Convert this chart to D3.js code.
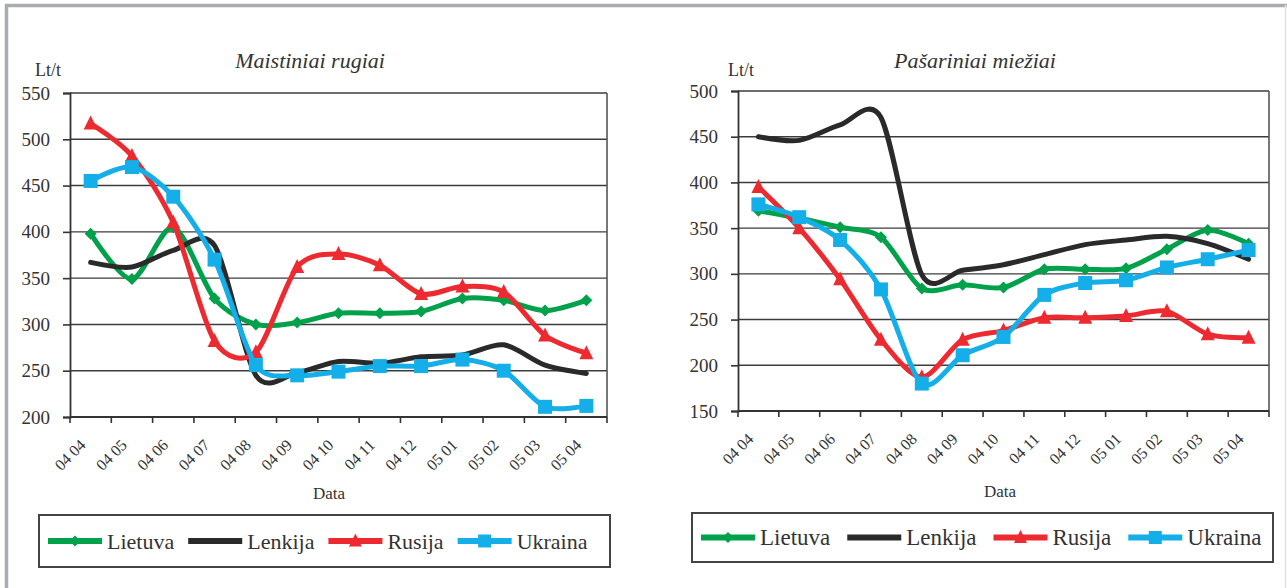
<!DOCTYPE html>
<html>
<head>
<meta charset="utf-8">
<script src="https://cdn.jsdelivr.net/npm/d3@7"></script>
<style>
  html, body { margin: 0; padding: 0; background: #fff; }
  svg { display: block; }
  text { font-family: "Liberation Serif", "Times New Roman", serif !important; fill: #333; }
</style>
</head>
<body>
<svg id="chart" width="1287" height="588" font-family="Liberation Serif, serif"></svg>
<script>
// ---------- data ----------
const categories = ["04 04","04 05","04 06","04 07","04 08","04 09","04 10","04 11","04 12","05 01","05 02","05 03","05 04"];
const seriesNames = ["Lietuva","Lenkija","Rusija","Ukraina"];

// Maistiniai rugiai (Lt/t)
const ryeLietuva = [398,349,405,328,300,302,312,312,314,328,326,315,326];
const ryeLenkija = [367,362,380,385,245,248,260,258,265,267,278,256,247];
const ryeRusija  = [517,482,410,282,270,362,376,364,333,341,335,288,269];
const ryeUkraina = [455,470,438,370,256,245,249,255,255,262,250,211,212];
const ryeTicks = [200,250,300,350,400,450,500,550];

// Pašariniai miežiai (Lt/t)
const barleyLietuva = [369,361,351,340,284,288,285,305,305,306,327,348,333];
const barleyLenkija = [450,446,463,471,299,304,310,321,332,337,341,333,316];
const barleyRusija  = [395,350,294,228,187,228,238,252,252,254,259,234,230];
const barleyUkraina = [376,362,337,283,180,211,231,277,290,293,307,316,326];
const barleyTicks = [150,200,250,300,350,400,450,500];

// ---------- styles ----------
const colors = { Lietuva: "#00a14b", Lenkija: "#2a2a2a", Rusija: "#ec2a30", Ukraina: "#14aee9" };
const markers = { Lietuva: "diamond", Lenkija: null, Rusija: "triangle", Ukraina: "square" };
const FONT = "Liberation Serif, Times New Roman, serif";

const svg = d3.select("#chart");

// outer frame
svg.append("line").attr("x1", 6.5).attr("x2", 6.5).attr("y1", 5).attr("y2", 588)
  .attr("stroke", "#a9abae").attr("stroke-width", 3.5);
svg.append("line").attr("x1", 5).attr("x2", 1287).attr("y1", 5.5).attr("y2", 5.5)
  .attr("stroke", "#a9abae").attr("stroke-width", 3.5);
svg.append("line").attr("x1", 1285.5).attr("x2", 1285.5).attr("y1", 5).attr("y2", 588)
  .attr("stroke", "#e2e2e2").attr("stroke-width", 1.5);

function markerPath(type, s) {
  const h = s / 2;
  if (type === "diamond") return `M0,${-h}L${h},0L0,${h}L${-h},0Z`;
  if (type === "square") return `M${-h},${-h}H${h}V${h}H${-h}Z`;
  if (type === "triangle") return `M0,${-h - 1}L${h},${h - 1}L${-h},${h - 1}Z`;
  return "";
}
const markerSize = { diamond: 12, square: 14, triangle: 14 };

function drawChart(cfg) {
  const g = svg.append("g").attr("font-family", FONT);
  const x = d3.scaleBand().domain(categories).range([cfg.left, cfg.right]).padding(0);
  const y = d3.scaleLinear().domain([cfg.ticks[0], cfg.ticks[cfg.ticks.length - 1]]).range([cfg.bottom, cfg.top]);

  // gridlines
  g.append("g").selectAll("line").data(cfg.ticks.slice(1)).join("line")
    .attr("x1", cfg.left).attr("x2", cfg.right)
    .attr("y1", d => y(d)).attr("y2", d => y(d))
    .attr("stroke", "#3c3c3c").attr("stroke-width", 1.4);
  // right border
  g.append("line").attr("x1", cfg.right).attr("x2", cfg.right).attr("y1", cfg.top).attr("y2", cfg.bottom)
    .attr("stroke", "#555").attr("stroke-width", 1.6);

  // y axis
  const yAxis = g.append("g").attr("transform", `translate(${cfg.left},0)`)
    .call(d3.axisLeft(y).tickValues(cfg.ticks).tickSize(7).tickPadding(13).tickFormat(d3.format("d")));
  yAxis.attr("font-family", FONT).attr("font-size", 19);
  yAxis.select(".domain").attr("stroke", "#333").attr("stroke-width", 1.8);
  yAxis.selectAll(".tick line").attr("stroke", "#333").attr("stroke-width", 1.6);
  yAxis.selectAll(".tick text").attr("fill", "#333");

  // x axis (ticks between categories)
  const xAxisG = g.append("g").attr("transform", `translate(0,${cfg.bottom})`);
  xAxisG.append("line").attr("x1", cfg.left).attr("x2", cfg.right).attr("y1", 0).attr("y2", 0)
    .attr("stroke", "#333").attr("stroke-width", 1.8);
  const edges = categories.map(c => x(c)).concat([cfg.right]);
  xAxisG.selectAll("line.tk").data(edges).join("line").attr("class", "tk")
    .attr("x1", d => d).attr("x2", d => d).attr("y1", 0).attr("y2", 6)
    .attr("stroke", "#333").attr("stroke-width", 1.6);
  xAxisG.selectAll("text").data(categories).join("text")
    .attr("transform", d => `translate(${x(d) + x.bandwidth() / 2 - 4},29) rotate(-45)`)
    .attr("text-anchor", "end").attr("font-size", 16).text(d => d);

  // title and labels
  g.append("text").attr("x", cfg.titleX).attr("y", 68).attr("text-anchor", "middle")
    .attr("font-size", 22).attr("font-style", "italic").text(cfg.title);
  g.append("text").attr("x", cfg.unitX).attr("y", 76).attr("font-size", 18).text("Lt/t");
  g.append("text").attr("x", cfg.dataX).attr("y", cfg.dataY).attr("text-anchor", "middle")
    .attr("font-size", 17).text("Data");

  // series
  const line = d3.line()
    .x((d, i) => x(categories[i]) + x.bandwidth() / 2)
    .y(d => y(d))
    .curve(d3.curveCardinal.tension(0.15));

  seriesNames.forEach(name => {
    const vals = cfg.data[name];
    g.append("path").attr("d", line(vals)).attr("fill", "none")
      .attr("stroke", colors[name]).attr("stroke-width", 5)
      .attr("stroke-linejoin", "round").attr("stroke-linecap", "round");
    const m = markers[name];
    if (m) {
      g.append("g").selectAll("path").data(vals).join("path")
        .attr("transform", (d, i) => `translate(${x(categories[i]) + x.bandwidth() / 2},${y(d)})`)
        .attr("d", markerPath(m, markerSize[m]))
        .attr("fill", colors[name]);
    }
  });

  // legend
  const lg = g.append("g");
  lg.append("rect").attr("x", cfg.legend.x).attr("y", cfg.legend.y)
    .attr("width", cfg.legend.w).attr("height", cfg.legend.h)
    .attr("fill", "#fff").attr("stroke", "#444").attr("stroke-width", 2);
  let cx = cfg.legend.x + 9;
  const cy = cfg.legend.y + cfg.legend.h / 2;
  seriesNames.forEach(name => {
    lg.append("line").attr("x1", cx).attr("x2", cx + 54).attr("y1", cy).attr("y2", cy)
      .attr("stroke", colors[name]).attr("stroke-width", 6);
    const m = markers[name];
    if (m) {
      lg.append("path").attr("transform", `translate(${cx + 27},${cy})`)
        .attr("d", markerPath(m, m === "diamond" ? 11 : 13)).attr("fill", colors[name]);
    }
    const t = lg.append("text").attr("x", cx + 59).attr("y", cy + 7.5)
      .attr("font-size", cfg.legend.fs).text(name);
    const w = t.node().getComputedTextLength();
    cx = cx + 59 + w + cfg.legend.gap;
  });
}

drawChart({
  title: "Maistiniai rugiai", titleX: 310, unitX: 35, dataX: 329, dataY: 499,
  left: 70, right: 607, top: 93, bottom: 417, ticks: ryeTicks,
  data: { Lietuva: ryeLietuva, Lenkija: ryeLenkija, Rusija: ryeRusija, Ukraina: ryeUkraina },
  legend: { x: 39, y: 515, w: 571, h: 52, gap: 14, fs: 22 }
});

drawChart({
  title: "Pašariniai miežiai", titleX: 975, unitX: 728, dataX: 1000, dataY: 497,
  left: 738, right: 1269, top: 91, bottom: 411, ticks: barleyTicks,
  data: { Lietuva: barleyLietuva, Lenkija: barleyLenkija, Rusija: barleyRusija, Ukraina: barleyUkraina },
  legend: { x: 692, y: 513, w: 581, h: 49, gap: 17, fs: 23 }
});
</script>
</body>
</html>
